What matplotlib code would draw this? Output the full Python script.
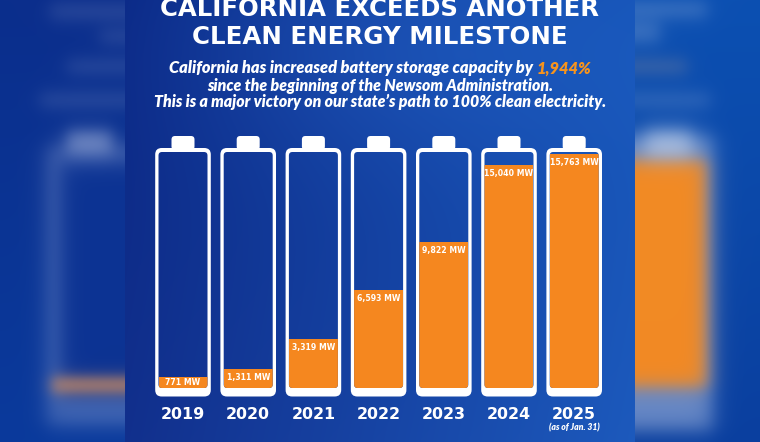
import numpy as np
import matplotlib
matplotlib.use('Agg')
import matplotlib.pyplot as plt
from matplotlib.patches import FancyBboxPatch
from matplotlib.colors import to_rgb

# ---------------- data ----------------
years = ['2019', '2020', '2021', '2022', '2023', '2024', '2025']
capacity_mw = [771, 1311, 3319, 6593, 9822, 15040, 15763]
value_labels = ['771 MW', '1,311 MW', '3,319 MW', '6,593 MW', '9,822 MW', '15,040 MW', '15,763 MW']
year_note = '(as of Jan. 31)'
title_lines = ['CALIFORNIA EXCEEDS ANOTHER', 'CLEAN ENERGY MILESTONE']
subtitle_first = 'California has increased battery storage capacity by'
subtitle_highlight = '1,944%'
subtitle_lines = ['since the beginning of the Newsom Administration.',
                  'This is a major victory on our state\u2019s path to 100% clean electricity.']
battery_full_mw = 15900  # capacity represented by a completely full battery

# ---------------- style ----------------
ORANGE = '#F5871F'
WHITE = '#FFFFFF'
W, H = 760, 442

# ---------------- background image ----------------
X, Y = np.meshgrid(np.arange(W) + 0.5, np.arange(H) + 0.5)


def sig(z):
    return 1.0 / (1.0 + np.exp(-z))


def soft(x0, x1, y0, y1, s):
    return sig((X - x0) / s) * sig((x1 - X) / s) * sig((Y - y0) / s) * sig((y1 - Y) / s)


def comp(img, mask, color, alpha):
    a = (mask * alpha)[..., None]
    img[:] = img * (1 - a) + np.array(to_rgb(color)) * a


img = np.zeros((H, W, 3))
# side backgrounds
v = (Y / H)[..., None]
left_bg = np.array(to_rgb('#0b2e8c')) * (1 - v) + np.array(to_rgb('#0a3a9c')) * v
right_bg = np.array(to_rgb('#0c50b2')) * (1 - v) + np.array(to_rgb('#0a3f9f')) * v
img[:] = np.where((X < 380)[..., None], left_bg, right_bg)

# left ghost (blurred, zoomed copy)
comp(img, soft(47, 170, 146, 425, 6), '#c8d4f0', 0.30)
comp(img, soft(60, 170, 162, 396, 6), '#0c3393', 1.0)
comp(img, soft(67, 112, 131, 152, 5), '#dfe6f7', 0.45)
comp(img, soft(52, 170, 377, 393, 4), '#d9925e', 0.8)
for (x0, x1, y0, y1) in [(50, 170, 4, 19), (100, 170, 30, 43), (67, 170, 60, 73), (40, 170, 93, 107)]:
    comp(img, soft(x0, x1, y0, y1, 5), WHITE, 0.13)

# right ghost
comp(img, soft(590, 713, 136, 430, 6), '#d8e0f4', 0.45)
comp(img, soft(590, 706, 160, 387, 5), '#F28A24', 1.0)
comp(img, soft(645, 692, 130, 156, 6), WHITE, 0.5)
for (x0, x1, y0, y1, c, a) in [(590, 707, 2, 17, WHITE, 0.2), (590, 660, 22, 42, WHITE, 0.2),
                               (590, 687, 60, 73, '#8c8c9c', 0.4), (590, 710, 93, 107, WHITE, 0.15)]:
    comp(img, soft(x0, x1, y0, y1, 5), c, a)

# central panel gradient
u = np.clip((X - 125) / 510.0, 0, 1)[..., None]
vv = (Y / H)[..., None]
panel = np.array(to_rgb('#0a2885')) * (1 - u) + np.array(to_rgb('#1552b5')) * u
glow = np.exp(-(((X - 400) / 230.0) ** 2 + ((Y - 40) / 120.0) ** 2))[..., None]
panel = panel + glow * (np.array(to_rgb('#1b45a6')) - np.array(to_rgb('#0f318f'))) * 0.8
panel = panel + vv * 0.03
panel = np.clip(panel, 0, 1)
inside = ((X >= 125) & (X < 635))[..., None]
img[:] = np.where(inside, panel, img)

# ---------------- figure ----------------
fig = plt.figure(figsize=(W / 100, H / 100), dpi=100)
bg = fig.add_axes([0, 0, 1, 1])
bg.imshow(img, extent=(0, W, H, 0), aspect='auto', interpolation='bilinear')
bg.set_xlim(0, W)
bg.set_ylim(H, 0)
bg.axis('off')

# main chart axes (pixel geometry of the batteries' interior)
cat_px = 65.2
first_center = 183.0
ax_left = first_center - cat_px / 2
inner_bottom, inner_top = 388.0, 152.0
inner_h = inner_bottom - inner_top
ax = fig.add_axes([ax_left / W, (H - inner_bottom) / H, len(years) * cat_px / W, inner_h / H])
ax.set_xlim(-0.5, len(years) - 0.5)
ax.set_ylim(0, battery_full_mw)
ax.axis('off')

xpx = 1.0 / cat_px                # data units per pixel (x)
ypx = battery_full_mw / inner_h   # data units per pixel (y)
aspect = ypx / xpx

img_extent = (-0.5 - ax_left * xpx, -0.5 + (W - ax_left) * xpx,
              -(H - inner_bottom) * ypx, battery_full_mw + inner_top * ypx)

xs = np.arange(len(years))
inner_half = 24.5 * xpx
bars = ax.bar(xs, capacity_mw, width=2 * inner_half, color=ORANGE, zorder=3, linewidth=0)

for i, x in enumerate(xs):
    # outer white body
    outer = FancyBboxPatch((x - 27.8 * xpx, -8.5 * ypx), 55.6 * xpx, battery_full_mw + 12.5 * ypx,
                           boxstyle='round,pad=0,rounding_size=%f' % (6.5 * xpx),
                           mutation_aspect=aspect, facecolor=WHITE, edgecolor='none',
                           zorder=1, clip_on=False)
    ax.add_patch(outer)
    # cap
    cap = FancyBboxPatch((x - 11.5 * xpx, battery_full_mw + 2 * ypx), 23 * xpx, 14 * ypx,
                         boxstyle='round,pad=0,rounding_size=%f' % (3.5 * xpx),
                         mutation_aspect=aspect, facecolor=WHITE, edgecolor='none',
                         zorder=1, clip_on=False)
    ax.add_patch(cap)
    # inner region (clip path)
    inner = FancyBboxPatch((x - inner_half, 0), 2 * inner_half, battery_full_mw,
                           boxstyle='round,pad=0,rounding_size=%f' % (3.5 * xpx),
                           mutation_aspect=aspect, facecolor='none', edgecolor='none',
                           zorder=2, clip_on=False)
    ax.add_patch(inner)
    im = ax.imshow(img, extent=img_extent, aspect='auto', interpolation='bilinear', zorder=2)
    im.set_clip_path(inner)
    bars[i].set_clip_path(inner)

ax.set_xlim(-0.5, len(years) - 0.5)
ax.set_ylim(0, battery_full_mw)

PT = 72.0 / 100  # points per pixel

for i, (x, val, lab) in enumerate(zip(xs, capacity_mw, value_labels)):
    fill_px = val / battery_full_mw * inner_h
    off_px = min(8.5, fill_px / 2) + 2.6
    ax.annotate(lab, (x, val), xytext=(0, -off_px * PT), textcoords='offset points',
                ha='center', va='baseline', color=WHITE, fontsize=5.6,
                fontweight='bold', family=['DejaVu Sans'], zorder=5, annotation_clip=False)
    ax.annotate(years[i], (x, 0), xytext=(0, -31 * PT), textcoords='offset points',
                ha='center', va='baseline', color=WHITE, fontsize=11.4,
                fontweight='bold', family=['DejaVu Sans'], annotation_clip=False)

ax.annotate(year_note, (xs[-1], 0), xytext=(0, -42 * PT), textcoords='offset points',
            ha='center', va='baseline', color=WHITE, fontsize=6.2,
            fontweight='heavy', fontstyle='italic', family=['Lato', 'DejaVu Sans'],
            annotation_clip=False)

renderer = fig.canvas.get_renderer()


def fit(t, target):
    w = t.get_window_extent(renderer).width
    t.set_fontsize(t.get_fontsize() * target / w)


cx = 380
t1 = bg.text(cx, 16, title_lines[0], ha='center', va='baseline', color=WHITE,
             fontsize=17, fontweight='bold', family=['DejaVu Sans'])
fit(t1, 440)
t2 = bg.text(cx, 43.5, title_lines[1], ha='center', va='baseline', color=WHITE,
             fontsize=17, fontweight='bold', family=['DejaVu Sans'])
fit(t2, 375)

sub_kw = dict(va='baseline', color=WHITE, fontsize=10, fontweight='heavy',
              fontstyle='italic', family=['Lato', 'DejaVu Sans'])
# first subtitle line: white prefix + orange highlight, placed using the full line's width
full_line = subtitle_first + ' ' + subtitle_highlight
probe = bg.text(0, 73.5, full_line, ha='left', **sub_kw)
fit(probe, 420)
fs1 = probe.get_fontsize()
wfull = probe.get_window_extent(renderer).width
probe.remove()
start = cx - wfull / 2
s1 = bg.text(start, 73.5, subtitle_first, ha='left', **{**sub_kw, 'fontsize': fs1})
s1b = bg.text(start + wfull, 73.5, subtitle_highlight, ha='right',
              **{**sub_kw, 'fontsize': fs1, 'color': '#F7941D'})

s2 = bg.text(cx, 90.5, subtitle_lines[0], ha='center', **sub_kw)
fit(s2, 347)
s3 = bg.text(cx, 107.5, subtitle_lines[1], ha='center', **sub_kw)
fit(s3, 454)

fig.savefig('out.png', dpi=100)
